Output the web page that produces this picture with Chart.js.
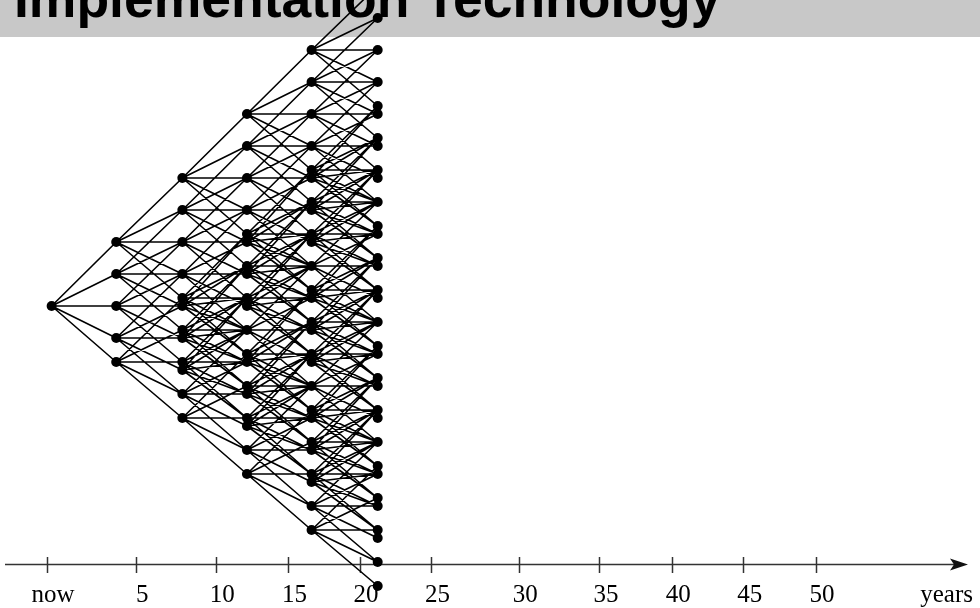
<!DOCTYPE html>
<html>
<head>
<meta charset="utf-8">
<script src="https://cdn.jsdelivr.net/npm/chart.js@4.4.1/dist/chart.umd.min.js"></script>
<style>
  html, body { margin: 0; padding: 0; background: #fff; }
  #wrap { width: 980px; height: 608px; position: relative; }
</style>
</head>
<body>
<div id="wrap"><canvas id="tree"></canvas></div>
<script>
const title = 'Implementation Technology';

// tick marks on the time axis (axis units), and their labels
const tickAt = [0, 5.8, 11, 15.7, 20.35, 25, 30.7, 35.95, 40.65, 45.3, 50, 58.1];
const tickLabels = ['now', '5', '10', '15', '20', '25', '30', '35', '40', '45', '50', 'years'];
const axisLevel = -31.375;   // level where the time axis sits

// lattice columns along the time axis
const colX = [0.3, 4.5, 8.8, 13.0, 17.2, 21.5];

// node levels in each column (1 level = 1/4 of a main step)
const col0 = [0];
const col1 = [8, 4, 0, -4, -7];
const col2 = [16, 12, 8, 4, 1, 0, -3, -4, -7, -8, -11, -14];
const col3 = [24, 20, 16, 12, 9, 8, 5, 4, 1, 0, -3, -6, -7, -10, -11, -14, -15, -18, -21];
const col4 = [32, 28, 24, 20, 17, 16, 13, 12, 9, 8, 5, 2, 1, -2, -3, -6, -7, -10, -13, -14,
              -17, -18, -21, -22, -25, -28];
const col5 = [40, 36, 32, 28, 25, 24, 21, 20, 17, 16, 13, 10, 9, 6, 5, 2, 1, -2, -5, -6,
              -9, -10, -13, -14, -17, -20, -21, -24, -25, -28, -29, -32, -35];

// nodes whose own branches start the next column;
// every other node sits one level under one of these and follows its branches
const branch0 = [0];
const branch1 = [8, 4, 0, -4, -7];
const branch2 = [16, 12, 8, 4, 1, -3, -7, -11, -14];
const branch3 = [24, 20, 16, 12, 9, 5, 1, -3, -6, -10, -14, -18, -21];
const branch4 = [32, 28, 24, 20, 17, 13, 9, 5, 2, -2, -6, -10, -13, -17, -21, -25, -28];

// the five moves out of a branching node
const steps = [8, 4, 0, -4, -7];

const columns = [col0, col1, col2, col3, col4, col5];
const branching = [branch0, branch1, branch2, branch3, branch4];

const nodes = [];
columns.forEach((col, k) => {
  col.forEach(v => nodes.push({ x: colX[k], y: v }));
});

const edges = [];
branching.forEach((parents, k) => {
  columns[k].forEach(n => {
    const base = parents.includes(n) ? n : n + 1;
    steps.forEach(s => {
      const c = base + s;
      if (columns[k + 1].includes(c)) {
        edges.push({ x: colX[k], y: n }, { x: colX[k + 1], y: c }, { x: null, y: null });
      }
    });
  });
});

const decor = {
  id: 'decor',
  beforeDraw(chart) {
    const ctx = chart.ctx;
    ctx.save();
    ctx.fillStyle = '#c8c8c8';
    ctx.fillRect(0, 0, chart.width, 37);
    ctx.fillStyle = '#000';
    ctx.font = 'bold 53.5px "Liberation Sans", Arial, sans-serif';
    ctx.textBaseline = 'alphabetic';
    ctx.fillText(title, 14, 16.5);
    ctx.restore();
  },
  beforeDatasetsDraw(chart) {
    const ctx = chart.ctx;
    const y = chart.scales.y.getPixelForValue(axisLevel) + 7.5;
    ctx.save();
    ctx.strokeStyle = '#333';
    ctx.lineWidth = 1.5;
    ctx.beginPath();
    ctx.moveTo(5, y);
    ctx.lineTo(955, y);
    ctx.stroke();
    ctx.fillStyle = '#111';
    ctx.beginPath();
    ctx.moveTo(968, y);
    ctx.lineTo(950, y - 6);
    ctx.lineTo(954, y);
    ctx.lineTo(950, y + 6);
    ctx.closePath();
    ctx.fill();
    ctx.restore();
  }
};

new Chart(document.getElementById('tree'), {
  type: 'scatter',
  data: {
    datasets: [{
      data: nodes,
      backgroundColor: '#000',
      borderWidth: 0,
      pointRadius: 5,
      pointHoverRadius: 5,
      showLine: false,
      clip: false
    }, {
      data: edges,
      borderColor: '#000',
      borderWidth: 1.6,
      pointRadius: 0,
      showLine: true,
      spanGaps: false,
      tension: 0,
      clip: false
    }]
  },
  options: {
    responsive: true,
    maintainAspectRatio: false,
    animation: false,
    layout: { padding: 0, autoPadding: false },
    plugins: { legend: { display: false }, tooltip: { enabled: false } },
    scales: {
      x: {
        type: 'linear',
        position: { y: axisLevel },
        min: -3.056,
        max: 60.66,
        afterFit: s => { s.height = 0; },
        afterBuildTicks: s => { s.ticks = tickAt.map(v => ({ value: v })); },
        border: { display: false },
        grid: {
          drawOnChartArea: false,
          drawTicks: true,
          tickLength: 16,
          tickWidth: 1.5,
          tickColor: c => (c.index === tickAt.length - 1 ? 'rgba(0,0,0,0)' : '#333')
        },
        ticks: {
          autoSkip: false,
          maxRotation: 0,
          padding: 7,
          labelOffset: 6,
          color: '#000',
          font: { family: '"Liberation Serif", "Times New Roman", serif', size: 25 },
          callback: (v, i) => tickLabels[i]
        }
      },
      y: {
        type: 'linear',
        display: false,
        min: -37.75,
        max: 38.25
      }
    }
  },
  plugins: [decor]
});
</script>
</body>
</html>
